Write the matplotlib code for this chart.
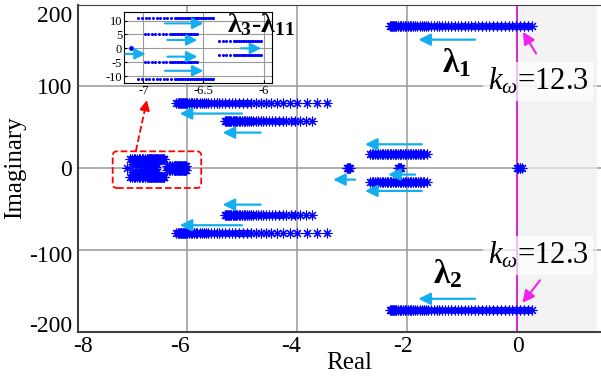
import numpy as np
import matplotlib.pyplot as plt
from matplotlib.patches import FancyBboxPatch
from matplotlib.transforms import ScaledTranslation

plt.rcParams['font.family'] = 'Liberation Serif'
plt.rcParams['mathtext.fontset'] = 'custom'
plt.rcParams['mathtext.rm'] = 'Liberation Serif'
plt.rcParams['mathtext.it'] = 'Liberation Serif:italic'
plt.rcParams['mathtext.bf'] = 'Liberation Serif:bold'
plt.rcParams['axes.unicode_minus'] = False

# Lugar das raizes (parte real); pares conjugados usam a mesma parte real
lam12_re = [-2.32, -2.30, -2.28, -2.26, -2.24, -2.22, -2.20, -2.17, -2.14, -2.11,
            -2.08, -2.05, -2.02, -1.99, -1.96, -1.93, -1.90, -1.86, -1.82, -1.78,
            -1.74, -1.70, -1.66, -1.62, -1.57, -1.52, -1.47, -1.42, -1.37, -1.32,
            -1.26, -1.20, -1.14, -1.08, -1.02, -0.96, -0.90, -0.84, -0.78, -0.72,
            -0.65, -0.58, -0.51, -0.44, -0.37, -0.30, -0.23, -0.16, -0.09, -0.02,
            0.05, 0.12, 0.19, 0.26]
lam12_im = 174

b79_re = [-6.20, -6.18, -6.16, -6.14, -6.12, -6.10, -6.08, -6.06, -6.04, -6.02,
          -6.00, -5.97, -5.94, -5.91, -5.88, -5.85, -5.82, -5.78, -5.74, -5.70,
          -5.66, -5.62, -5.57, -5.52, -5.47, -5.42, -5.37, -5.31, -5.25, -5.19,
          -5.13, -5.06, -4.99, -4.92, -4.84, -4.76, -4.67, -4.58, -4.48, -4.38,
          -4.27, -4.14, -4.01, -3.83, -3.65, -3.47]
b79_im = 79.5

b58_re = [-5.32, -5.30, -5.28, -5.26, -5.24, -5.22, -5.20, -5.18, -5.16, -5.14,
          -5.12, -5.10, -5.07, -5.04, -5.01, -4.98, -4.95, -4.92, -4.88, -4.84,
          -4.80, -4.76, -4.72, -4.67, -4.62, -4.57, -4.52, -4.46, -4.40, -4.34,
          -4.27, -4.20, -4.12, -4.04, -3.95, -3.85, -3.74]
b58_im = 58

b18_re = [-2.68, -2.65, -2.62, -2.59, -2.56, -2.53, -2.50, -2.47, -2.44, -2.41,
          -2.38, -2.35, -2.32, -2.29, -2.26, -2.23, -2.20, -2.17, -2.14, -2.11,
          -2.08, -2.05, -2.02, -1.99, -1.96, -1.93, -1.90, -1.87, -1.84, -1.81,
          -1.78, -1.75, -1.72, -1.69, -1.65]
b18_im = 17.5

c3_re = [-3.10, -3.08, -3.06, -3.04]
c2_re = [-2.17, -2.15, -2.13, -2.11]
c0_re = [-0.01, 0.01, 0.04, 0.08]

# lambda3..lambda11 (tambem no detalhe)
r11_re = [-7.04, -7.01, -6.98, -6.95, -6.92, -6.89, -6.86, -6.83, -6.80, -6.77,
          -6.74, -6.72, -6.70, -6.685, -6.67, -6.655, -6.64, -6.625, -6.61, -6.595,
          -6.58, -6.565, -6.55, -6.535, -6.52, -6.505, -6.49, -6.475, -6.46, -6.445,
          -6.43, -6.42]
r11_im = 11
r5_re = [-6.99, -6.96, -6.93, -6.90, -6.87, -6.84, -6.81, -6.78, -6.765, -6.75,
         -6.735, -6.72, -6.705, -6.69, -6.675, -6.66, -6.645, -6.63, -6.615, -6.60,
         -6.585, -6.57, -6.555]
r5_im = 5
r2_re = [-6.37, -6.34, -6.31, -6.28, -6.25, -6.235, -6.22, -6.205, -6.19, -6.175,
         -6.16, -6.145, -6.13, -6.115, -6.10, -6.085, -6.07, -6.055, -6.04, -6.025]
r2_im = 2.5
r0_re = [-7.10]

x_ticks = [-8, -6, -4, -2, 0]
y_ticks = [-200, -100, 0, 100, 200]
in_xticks = [-7, -6.5, -6]
in_xlabels = ['-7', '-6.5', '-6']
in_yticks = [-10, -5, 0, 5, 10]

# setas azuis: (x inicio, x ponta, y)
main_arrows = [(-0.77, -1.80, 157), (-0.77, -1.80, -160),
               (-5.01, -6.14, 66.6), (-4.67, -5.36, 43.3),
               (-4.67, -5.36, -44.8), (-5.01, -6.14, -70),
               (-1.74, -2.77, 29), (-1.74, -2.77, -28),
               (-2.95, -3.35, -14.2), (-1.86, -2.35, -8)]
inset_arrows = [(-6.82, -6.50, 9.0), (-6.80, -6.55, 3.0), (-7.15, -6.98, -2.0),
                (-6.80, -6.55, -3.0), (-6.82, -6.50, -8.1), (-6.19, -6.02, 0.0)]

blue = '#0000ff'
cyan = '#12aef0'
mk = dict(ls='none', marker=(8, 2, 0), ms=7, mew=0.8, color=blue, zorder=3)


def pair(ax, re, im, **kw):
    ax.plot(re, np.full(len(re), im), **kw)
    ax.plot(re, np.full(len(re), -im), **kw)


def arrow(ax, x0, x1, y, lw=1.6, ms=12):
    ax.annotate('', xy=(x1, y), xytext=(x0, y),
                arrowprops=dict(arrowstyle='-|>,head_length=0.6,head_width=0.3',
                                color=cyan, lw=lw, mutation_scale=ms,
                                shrinkA=0, shrinkB=0), zorder=4)


fig = plt.figure(figsize=(6.01, 3.78), dpi=100)
ax = fig.add_axes([77.5 / 601, 46.5 / 378, 523.5 / 601, 327 / 378])
ax.set_xlim(-8, 1.52)
ax.set_ylim(-200, 200)
ax.set_xticks(x_ticks)
ax.set_yticks(y_ticks)
ax.tick_params(length=0, labelsize=17)
ax.tick_params(axis='x', pad=3)
ax.tick_params(axis='y', pad=4)
ax.grid(True, color='#999999', lw=1.1)
ax.set_axisbelow(True)
for s in ['left', 'bottom']:
    ax.spines[s].set_color('#404040')
    ax.spines[s].set_linewidth(1.5)
ax.spines['top'].set_color('#404040')
ax.spines['right'].set_visible(False)

# pequenos deslocamentos dos rotulos (em pixels), como na figura original
for lab, dx in zip(ax.get_xticklabels(), [5, -8, -6, -4, 1]):
    lab.set_transform(lab.get_transform() + ScaledTranslation(dx / 100, 0, fig.dpi_scale_trans))
for lab, dy in zip(ax.get_yticklabels(), [7, -4, 0, 0, -9]):
    lab.set_transform(lab.get_transform() + ScaledTranslation(0, dy / 100, fig.dpi_scale_trans))

ax.axvspan(0, 1.44, color='#eeeeee', alpha=0.65, lw=0, zorder=0.8)
ax.axvline(0, color='#cc33cc', lw=1.5, zorder=2)

ax.plot(lam12_re, np.full(len(lam12_re), lam12_im), **mk)
ax.plot(lam12_re, np.full(len(lam12_re), -lam12_im), **mk)
pair(ax, b79_re, b79_im, **mk)
pair(ax, b58_re, b58_im, **mk)
pair(ax, b18_re, b18_im, **mk)
pair(ax, r11_re, r11_im, **mk)
pair(ax, r5_re, r5_im, **mk)
pair(ax, r2_re, r2_im, **mk)
ax.plot(r0_re, [0], **mk)
ax.plot(c3_re, np.zeros(len(c3_re)), **mk)
ax.plot(c2_re, np.zeros(len(c2_re)), **mk)
ax.plot(c0_re, np.zeros(len(c0_re)), **mk)

for x0, x1, y in main_arrows:
    arrow(ax, x0, x1, y)

# setas magenta
for (xt, yt), (xh, yh) in [((0.34, 140), (0.10, 166.5)), ((0.41, -137.5), (0.09, -165))]:
    ax.annotate('', xy=(xh, yh), xytext=(xt, yt),
                arrowprops=dict(arrowstyle='-|>,head_length=0.6,head_width=0.3',
                                color='#ee22ee', lw=1.5, mutation_scale=12,
                                shrinkA=0, shrinkB=0), zorder=4)

ax.text(-1.38, 117.5, r'$\mathbf{\lambda_1}$', fontsize=24, va='baseline', zorder=5)
ax.text(-1.53, -141.5, r'$\mathbf{\lambda_2}$', fontsize=24, va='baseline', zorder=5)
box = dict(facecolor='white', alpha=0.7, edgecolor='none', pad=3)
ax.text(-0.54, 96, r'$k_\omega$=12.3', fontsize=22, va='baseline', bbox=box, zorder=5)
ax.text(-0.54, -117, r'$k_\omega$=12.3', fontsize=22, va='baseline', bbox=box, zorder=5)

# retangulo tracejado e seta
rect = FancyBboxPatch((-7.36, -24.5), 1.61, 44.9,
                      boxstyle='round,pad=0,rounding_size=0.08', mutation_aspect=67,
                      fill=False, ec='red', ls='--', lw=1.3, zorder=5)
ax.add_patch(rect)
ax.plot([-6.94, -6.77], [20.4, 73], color='red', ls='--', lw=1.3, zorder=5)
ax.annotate('', xy=(-6.74, 83), xytext=(-6.77, 73),
            arrowprops=dict(arrowstyle='-|>,head_length=0.6,head_width=0.3',
                            color='red', lw=1.3, mutation_scale=10,
                            shrinkA=0, shrinkB=0), zorder=5)

fig.text(15 / 601, 1 - 168 / 378, 'Imaginary', rotation=90, fontsize=18,
         ha='center', va='center')
fig.text(349 / 601, 1 - 369 / 378, 'Real', fontsize=18, ha='center', va='baseline')

# detalhe
axin = fig.add_axes([124.3 / 601, 1 - 82.7 / 378, 147.7 / 601, 70.4 / 378])
axin.set_xlim(-7.158, -5.93)
axin.set_ylim(-12.4, 13.0)
axin.set_xticks(in_xticks)
axin.set_xticklabels(in_xlabels)
axin.set_yticks(in_yticks)
axin.tick_params(direction='in', length=2, labelsize=9, pad=1.5)
axin.grid(True, color='#999999', lw=0.8)
axin.set_axisbelow(True)
dot = dict(ls='none', marker='o', ms=2.2, mew=0, color=blue, zorder=3)
pair(axin, r11_re, r11_im, **dot)
pair(axin, r5_re, r5_im, **dot)
pair(axin, r2_re, r2_im, **dot)
axin.plot(r0_re, [0], ls='none', marker='o', ms=3.5, mew=0, color=blue)
for x0, x1, y in inset_arrows:
    arrow(axin, x0, x1, y, lw=1.5, ms=11)

fig.text(226.7 / 601, 1 - 31.7 / 378, r'$\mathbf{\lambda_3}$-$\mathbf{\lambda_{11}}$',
         fontsize=20, fontweight='bold', va='baseline', zorder=6)

fig.savefig('out.png', dpi=100)
